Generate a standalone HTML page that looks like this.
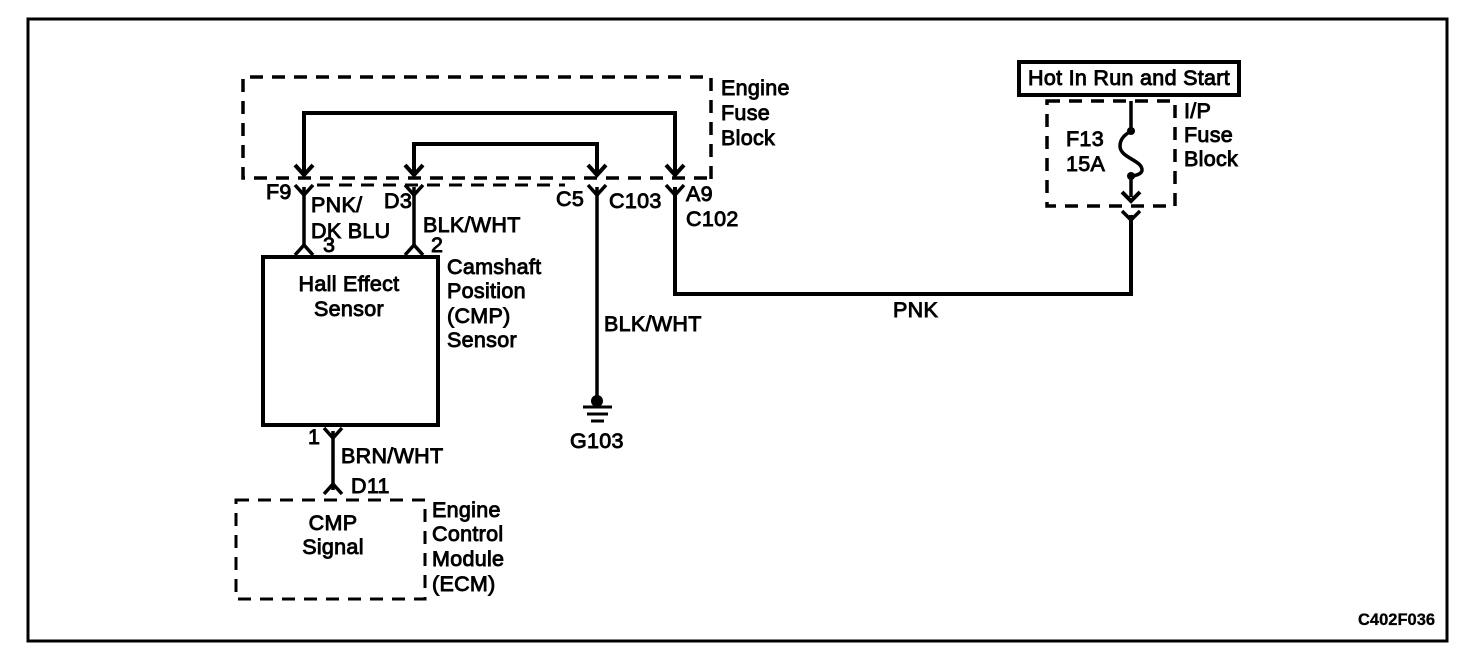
<!DOCTYPE html>
<html><head><meta charset="utf-8"><style>
html,body{margin:0;padding:0;background:#fff;width:1472px;height:668px;overflow:hidden}
svg{display:block}
text{font-family:"Liberation Sans",sans-serif;font-size:21.5px;letter-spacing:.3px;fill:#000;stroke:#000;stroke-width:.9px}
.m{text-anchor:middle}
</style></head><body>
<svg width="1472" height="668" viewBox="0 0 1472 668" xmlns="http://www.w3.org/2000/svg">
<g fill="none" stroke="#000" stroke-width="3">
<rect x="28" y="19" width="1419" height="622"/>
<!-- dashed boxes -->
<g stroke-dasharray="13 9">
<path d="M711 179V77H243V178H711" stroke-width="3.5"/>
<path d="M317 185H565" stroke-width="3"/>
<path d="M1047 101H1175V206H1047Z" stroke-width="3.5"/>
<path d="M236 500H425V599H236Z"/>
</g>
<!-- solid boxes -->
<rect x="1019" y="62" width="220" height="33" stroke-width="4"/>
<rect x="263" y="257" width="175" height="168" stroke-width="4"/>
<!-- wires -->
<g stroke-width="4">
<path d="M304 174V113H675V174"/>
<path d="M414 174V144H597V174"/>
</g>
<g stroke-width="3.5">
<path d="M304 187V245M414 187V245M333 431V490"/>
<path d="M597 187V400"/>
</g>
<path d="M675 187V294H1131V215" stroke-width="4"/>
<path d="M1131 101V131C1128 133 1120 137 1120 146C1120 158 1142 160 1142 170C1142 174 1135 176 1131 176V197" stroke-width="3.5"/>
<!-- arrows -->
<g stroke-width="4">
<path d="M295 165L304 175L313 165M405 165L414 175L423 165M588 165L597 175L606 165M666 165L675 175L684 165M1122 192L1131 201L1140 192"/>
</g>
<!-- Y connectors -->
<g stroke-width="3.5">
<path d="M295 185L304 195L313 185M405 185L414 195L423 185M588 185L597 195L606 185M666 185L675 195L684 185M1122 211L1131 220L1140 211M324 428L333 438L342 428"/>
<path d="M295 255L304 245L313 255M405 255L414 245L423 255M324 494L333 484L342 494"/>
</g>
<!-- ground -->
<path d="M583 407H612M587 414H608M591 421H604" stroke-width="3"/>
</g>
<circle cx="597" cy="401" r="6"/>
<circle cx="1131" cy="131" r="4"/>
<circle cx="1131" cy="176" r="4"/>
<!-- labels -->
<text x="721" y="95">Engine</text>
<text x="721" y="120">Fuse</text>
<text x="721" y="145">Block</text>
<text x="1028" y="85">Hot In Run and Start</text>
<text x="1184" y="118">I/P</text>
<text x="1184" y="142">Fuse</text>
<text x="1184" y="166">Block</text>
<text x="1066" y="146">F13</text>
<text x="1066" y="171">15A</text>
<text x="266" y="199">F9</text>
<text x="311" y="212">PNK/</text>
<text x="311" y="238">DK BLU</text>
<text x="323" y="252">3</text>
<text x="384" y="208">D3</text>
<text x="423" y="232">BLK/WHT</text>
<text x="431" y="252">2</text>
<text x="556" y="206">C5</text>
<text x="609" y="208">C103</text>
<text x="686" y="201">A9</text>
<text x="686" y="226">C102</text>
<text x="447" y="274">Camshaft</text>
<text x="447" y="298">Position</text>
<text x="447" y="323">(CMP)</text>
<text x="447" y="347">Sensor</text>
<text class="m" x="349" y="291">Hall Effect</text>
<text class="m" x="349" y="316">Sensor</text>
<text x="604" y="331">BLK/WHT</text>
<text x="893" y="317">PNK</text>
<text x="570" y="448">G103</text>
<text x="308" y="444">1</text>
<text x="341" y="463">BRN/WHT</text>
<text x="351" y="493">D11</text>
<text class="m" x="333" y="530">CMP</text>
<text class="m" x="333" y="554">Signal</text>
<text x="432" y="517">Engine</text>
<text x="432" y="541">Control</text>
<text x="432" y="566">Module</text>
<text x="432" y="591">(ECM)</text>
<text x="1358" y="625" style="font-size:16.5px;font-weight:bold;letter-spacing:0;stroke-width:.3px">C402F036</text>
</svg>
</body></html>
